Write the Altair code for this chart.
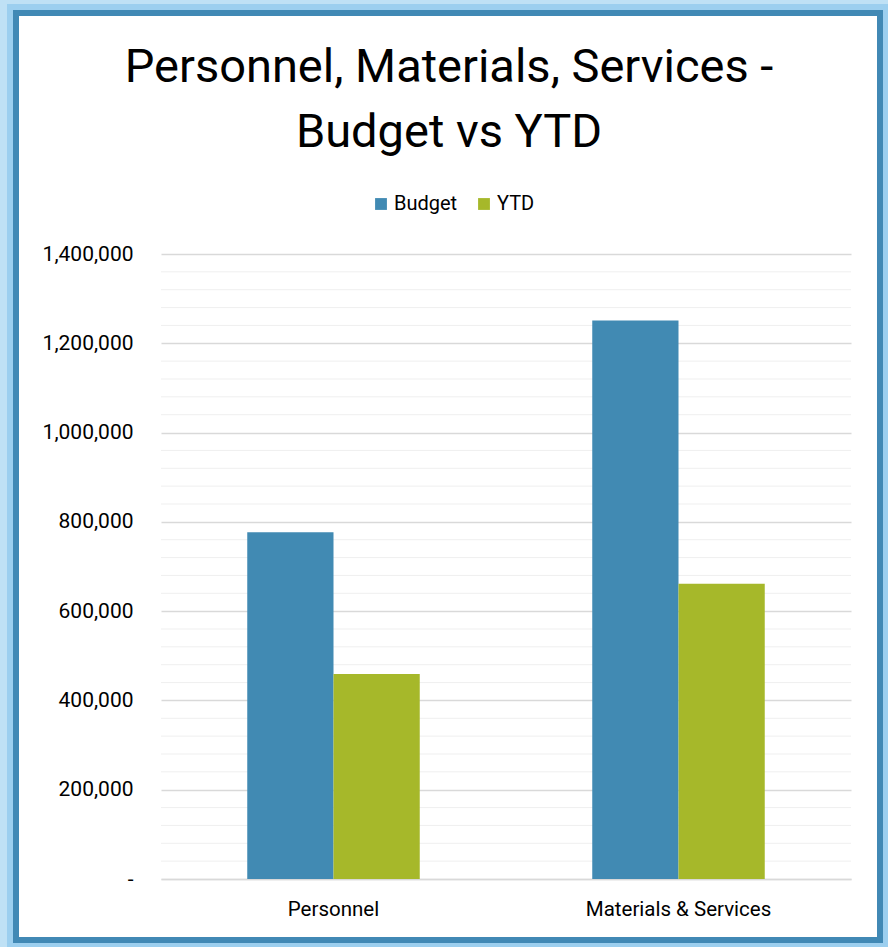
import altair as alt
import pandas as pd

categories = ["Personnel", "Materials & Services"]
series = ["Budget", "YTD"]
budget = [777000, 1251000]
ytd = [459000, 661500]
y_ticks = [0, 200000, 400000, 600000, 800000, 1000000, 1200000, 1400000]
minor_grid = [v for v in range(0, 1400001, 40000) if v % 200000 != 0]
colors = ["#418ab3", "#a6b82a"]

rows = []
for i, c in enumerate(categories):
    rows.append({"category": c, "series": "Budget", "value": budget[i]})
    rows.append({"category": c, "series": "YTD", "value": ytd[i]})
df = pd.DataFrame(rows)

FONT = "Roboto"
W, H = 690, 625
PL, PT, PR, PB = 161, 254, 37, 68

yscale = alt.Scale(domain=[0, 1400000], nice=False)
yaxis = alt.Axis(
    title=None, values=y_ticks, ticks=False, domain=False,
    gridColor="#d9d9d9", gridWidth=1.3,
    labelExpr="datum.value == 0 ? '-\u00a0\u00a0' : format(datum.value, ',')",
    labelFont=FONT, labelFontSize=21, labelColor="#000000", labelPadding=28,
)

minor = alt.Chart(pd.DataFrame({"value": minor_grid})).mark_rule(
    color="#efefef", strokeWidth=1
).encode(y=alt.Y("value:Q", scale=yscale, axis=yaxis))

bars = alt.Chart(df).mark_bar().encode(
    x=alt.X(
        "category:N",
        sort=categories,
        scale=alt.Scale(paddingInner=0.5, paddingOuter=0.25),
        axis=alt.Axis(
            title=None, labelAngle=0, ticks=False, domainColor="#d9d9d9",
            domainWidth=1.3, labelFont=FONT, labelFontSize=20.5, labelColor="#000000",
            labelPadding=20, grid=False, labelLimit=400,
        ),
    ),
    xOffset=alt.XOffset("series:N", sort=series, scale=alt.Scale(paddingInner=0, paddingOuter=0)),
    y=alt.Y("value:Q", scale=yscale, axis=yaxis),
    color=alt.Color(
        "series:N",
        sort=series,
        scale=alt.Scale(domain=series, range=colors),
        legend=alt.Legend(
            title=None, orient="none", legendX=210, legendY=-60, direction="horizontal",
            symbolType="square", symbolSize=140, symbolStrokeWidth=0,
            labelFont=FONT, labelFontSize=20, labelColor="#000000",
            labelOffset=3, columnPadding=16, padding=0,
        ),
    ),
)

one = pd.DataFrame({"k": [0]})
glow_outer = alt.Chart(one).mark_rect(fill=None, stroke="#bfe1f5", strokeWidth=13).encode(
    x=alt.value(-154.5), x2=alt.value(728.5), y=alt.value(-250.5), y2=alt.value(695.5)
)
glow_inner = alt.Chart(one).mark_rect(fill=None, stroke="#9ccfef", strokeWidth=6).encode(
    x=alt.value(-151), x2=alt.value(725), y=alt.value(-247), y2=alt.value(692)
)
border = alt.Chart(one).mark_rect(fill=None, stroke="#4189b5", strokeWidth=6).encode(
    x=alt.value(-145), x2=alt.value(719), y=alt.value(-241), y2=alt.value(686)
)

chart = alt.layer(minor, bars, glow_outer, glow_inner, border).properties(
    width=W,
    height=H,
    autosize=alt.AutoSizeParams(type="none"),
    padding={"left": PL, "top": PT, "right": PR, "bottom": PB},
    background="white",
    title=alt.TitleParams(
        text=["Personnel, Materials, Services -", "Budget vs YTD"],
        font=FONT, fontSize=47, fontWeight="normal", color="#000000",
        lineHeight=65, anchor="middle", dx=-57, offset=0, dy=160,
    ),
).configure_view(stroke=None)

chart.save("out.html", embed_options={"renderer": "svg", "actions": False})
